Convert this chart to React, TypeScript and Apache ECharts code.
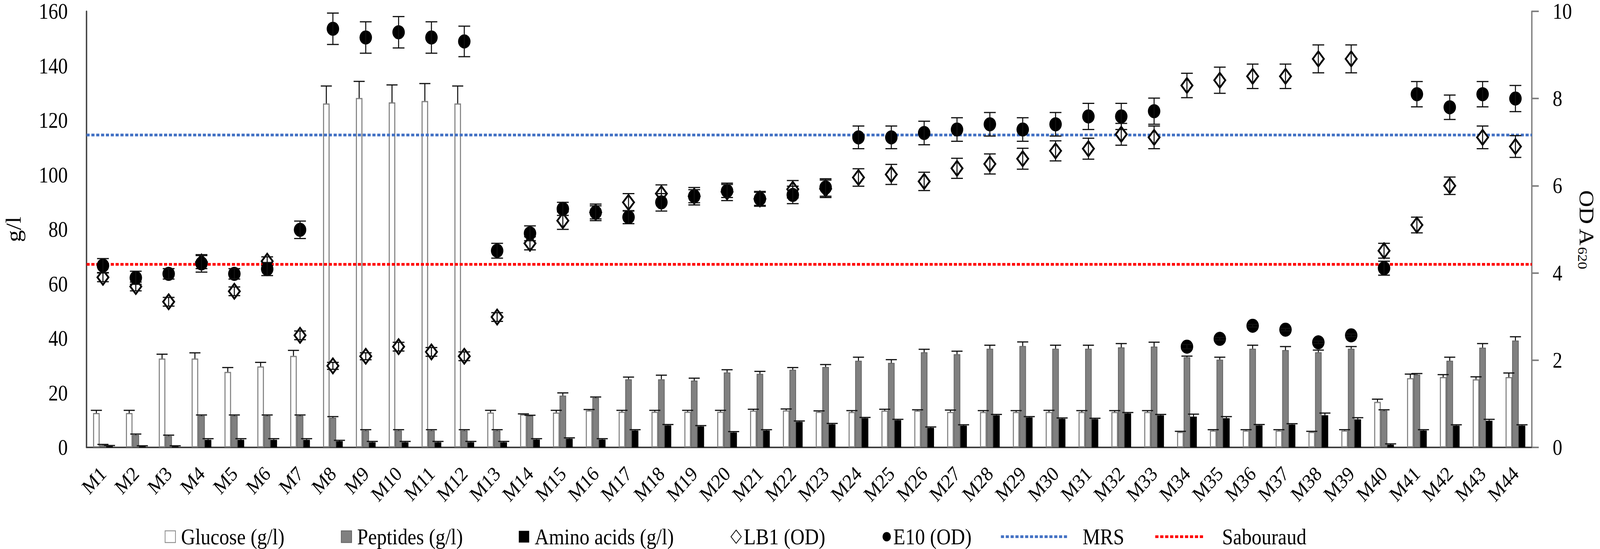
import React, { useEffect, useRef, useState } from "react";
import * as echarts from "echarts";

const categories = [
  "M1", "M2", "M3", "M4", "M5", "M6", "M7", "M8", "M9", "M10", "M11",
  "M12", "M13", "M14", "M15", "M16", "M17", "M18", "M19", "M20", "M21", "M22",
  "M23", "M24", "M25", "M26", "M27", "M28", "M29", "M30", "M31", "M32", "M33",
  "M34", "M35", "M36", "M37", "M38", "M39", "M40", "M41", "M42", "M43", "M44",
];

const glucose = [12.6, 12.6, 32.6, 32.6, 27.7, 29.7, 33.6, 126.2, 128.2, 126.6, 127.1, 126.2, 12.8, 12.1, 12.8, 13.6, 13.1, 13.1, 13.1, 13.1, 13.5, 13.6, 13.1, 13.0, 13.5, 13.5, 13.0, 13.0, 13.0, 13.0, 13.0, 13.0, 13.0, 5.7, 6.2, 6.2, 6.2, 5.7, 6.2, 16.7, 25.4, 25.8, 25.0, 25.8];
const glucoseErr = [1.0, 1.0, 1.6, 2.1, 1.6, 1.5, 2.0, 6.4, 6.1, 6.4, 6.4, 6.4, 0.8, 0.2, 0.8, 0.3, 0.5, 0.5, 0.5, 0.5, 0.5, 0.5, 0.3, 0.5, 0.5, 0.3, 0.7, 0.5, 0.5, 0.6, 0.5, 0.5, 0.5, 0.2, 0.3, 0.3, 0.3, 0.2, 0.3, 1.0, 1.5, 0.9, 0.9, 1.5];

const peptides = [0.8, 4.6, 4.2, 11.6, 11.6, 11.6, 11.6, 10.9, 6.2, 6.2, 6.2, 6.2, 6.2, 11.6, 19.0, 18.2, 25.0, 25.0, 24.5, 27.5, 27.0, 28.5, 29.5, 31.8, 31.0, 34.9, 34.2, 36.2, 37.2, 36.2, 36.2, 36.7, 37.0, 33.1, 32.2, 36.2, 35.7, 34.9, 36.2, 13.5, 26.7, 31.8, 36.6, 39.2];
const peptidesErr = [0.3, 0.3, 0.3, 0.3, 0.3, 0.3, 0.3, 0.4, 0.3, 0.3, 0.3, 0.3, 0.3, 0.2, 1.0, 0.3, 0.8, 1.5, 0.9, 1.0, 0.9, 0.8, 0.9, 1.3, 1.2, 1.1, 1.1, 1.3, 1.5, 1.3, 1.3, 1.4, 1.6, 0.4, 0.9, 1.3, 1.3, 0.8, 0.8, 0.3, 0.4, 1.3, 1.5, 1.4];

const aminoAcids = [0.5, 0.4, 0.4, 2.8, 2.8, 2.8, 2.8, 2.3, 1.9, 1.9, 1.9, 1.9, 1.9, 2.9, 3.2, 2.9, 6.2, 8.1, 7.7, 5.5, 6.2, 9.4, 8.5, 10.7, 10.0, 7.2, 8.0, 11.8, 11.0, 10.5, 10.4, 12.5, 11.8, 11.3, 10.7, 8.1, 8.4, 11.8, 10.3, 1.0, 6.2, 8.0, 9.8, 8.0];
const aminoAcidsErr = [0.2, 0.2, 0.2, 0.4, 0.4, 0.4, 0.4, 0.3, 0.3, 0.3, 0.3, 0.3, 0.3, 0.3, 0.3, 0.3, 0.3, 0.3, 0.3, 0.3, 0.3, 0.3, 0.3, 0.3, 0.3, 0.3, 0.3, 0.3, 0.3, 0.3, 0.3, 0.3, 0.3, 0.9, 0.6, 0.3, 0.3, 0.8, 0.6, 0.3, 0.3, 0.3, 0.5, 0.3];

const lb1 = [3.9, 3.69, 3.34, 4.25, 3.58, 4.27, 2.57, 1.87, 2.09, 2.31, 2.19, 2.09, 2.99, 4.68, 5.2, 5.39, 5.62, 5.82, 5.76, 5.86, 5.7, 5.92, 5.93, 6.19, 6.26, 6.1, 6.4, 6.5, 6.62, 6.8, 6.85, 7.18, 7.11, 8.3, 8.42, 8.51, 8.51, 8.91, 8.91, 4.51, 5.1, 6.0, 7.11, 6.9];
const lb1Err = [0.1, 0.1, 0.1, 0.15, 0.1, 0.1, 0.1, 0.08, 0.08, 0.1, 0.1, 0.1, 0.1, 0.15, 0.2, 0.15, 0.2, 0.2, 0.2, 0.2, 0.15, 0.2, 0.2, 0.2, 0.23, 0.21, 0.23, 0.23, 0.24, 0.23, 0.24, 0.25, 0.26, 0.28, 0.3, 0.28, 0.28, 0.32, 0.32, 0.17, 0.18, 0.2, 0.26, 0.25];

const e10 = [4.17, 3.89, 3.98, 4.22, 3.98, 4.09, 4.99, 9.6, 9.4, 9.52, 9.4, 9.31, 4.51, 4.91, 5.47, 5.39, 5.28, 5.62, 5.76, 5.88, 5.7, 5.79, 5.96, 7.11, 7.11, 7.21, 7.29, 7.41, 7.29, 7.41, 7.59, 7.59, 7.71, 2.31, 2.49, 2.79, 2.7, 2.41, 2.57, 4.11, 8.1, 7.8, 8.1, 8.0];
const e10Err = [0.16, 0.15, 0.12, 0.2, 0.12, 0.15, 0.2, 0.36, 0.36, 0.36, 0.36, 0.35, 0.17, 0.17, 0.15, 0.19, 0.15, 0.2, 0.15, 0.15, 0.17, 0.2, 0.2, 0.26, 0.26, 0.27, 0.27, 0.27, 0.27, 0.27, 0.3, 0.3, 0.3, 0.05, 0.03, 0.03, 0.03, 0.03, 0.03, 0.16, 0.29, 0.28, 0.29, 0.3];

const mrsLevel = 7.17;
const sabouraudLevel = 4.2;

const leftTicks = { min: 0, max: 160, interval: 20 };
const rightTicks = { min: 0, max: 10, interval: 2 };

const FONT = "'Liberation Serif', 'Times New Roman', serif";
const BAR_W = 19;
const BASE_W = 4623;
const BASE_H = 1405;

function dashPath(len: number, h: number, dash: number, gap: number) {
  let d = "path://";
  for (let x = 0; x < len; x += dash + gap) {
    const w = Math.min(dash, len - x);
    d += `M${x},0h${w}v${h}h${-w}z`;
  }
  return d;
}

function errorBars(values: number[], errs: number[], yAxisIndex: number, offset: number, both: boolean, capW: number, z: number) {
  return {
    type: "custom",
    yAxisIndex,
    z,
    silent: true,
    encode: { x: 0, y: 1 },
    data: values.map((v, k) => [k, v, errs[k]]),
    renderItem: (params: any, api: any) => {
      const i = api.value(0);
      const v = api.value(1);
      const e = api.value(2);
      if (!e) return null;
      const mid = api.coord([i, v]);
      const top = api.coord([i, v + e]);
      const bot = api.coord([i, both ? v - e : v]);
      const x = mid[0] + offset;
      const st = { stroke: "#111", lineWidth: 3 };
      const children: any[] = [
        { type: "line", shape: { x1: x, y1: top[1], x2: x, y2: bot[1] }, style: st },
        { type: "line", shape: { x1: x - capW / 2, y1: top[1], x2: x + capW / 2, y2: top[1] }, style: st },
      ];
      if (both) {
        children.push({ type: "line", shape: { x1: x - capW / 2, y1: bot[1], x2: x + capW / 2, y2: bot[1] }, style: st });
      }
      return { type: "group", children };
    },
  };
}

export default function App() {
  const ref = useRef<HTMLDivElement>(null);
  const [sx] = useState(() => Math.min(1, window.innerWidth / BASE_W));
  useEffect(() => {
    if (!ref.current) return;
    const chart = echarts.init(ref.current, null, { renderer: "svg" });
    const legendBase = {
      top: 1340,
      selectedMode: false,
      itemWidth: 30,
      itemHeight: 30,
      textStyle: { fontFamily: FONT, fontSize: 57, color: "#000", padding: [0, 0, 0, 11] },
    };
    const option: any = {
      animation: false,
      backgroundColor: "#fff",
      grid: { left: 242, right: 178, top: 29, bottom: 260, containLabel: false },
      legend: [
        { ...legendBase, left: 471, data: [{ name: "Glucose (g/l)", icon: "rect" }] },
        { ...legendBase, left: 980, data: [{ name: "Peptides (g/l)", icon: "rect" }] },
        { ...legendBase, left: 1494, data: [{ name: "Amino acids (g/l)", icon: "rect" }] },
        { ...legendBase, left: 2106, itemWidth: 30, itemHeight: 34, textStyle: { ...legendBase.textStyle, padding: [0, 0, 0, 2] }, data: ["LB1 (OD)"] },
        { ...legendBase, left: 2545, itemWidth: 24, itemHeight: 26, textStyle: { ...legendBase.textStyle, padding: [0, 0, 0, 2] }, data: ["E10 (OD)"] },
        {
          ...legendBase, left: 2887, itemWidth: 191, itemHeight: 7, symbolKeepAspect: false,
          textStyle: { ...legendBase.textStyle, padding: [0, 0, 0, 40] },
          data: [{ name: "MRS", icon: dashPath(191, 7, 9, 5), itemStyle: { color: "#4472C4" } }],
        },
        {
          ...legendBase, left: 3333, itemWidth: 138, itemHeight: 7, symbolKeepAspect: false,
          textStyle: { ...legendBase.textStyle, padding: [0, 0, 0, 50] },
          data: [{ name: "Sabouraud", icon: dashPath(138, 7, 9, 5), itemStyle: { color: "#FF0000" } }],
        },
      ],
      xAxis: {
        type: "category",
        data: categories,
        axisLine: { show: true, lineStyle: { color: "#404040", width: 4 } },
        axisTick: { show: false },
        axisLabel: { interval: 0, rotate: 45, margin: 58, fontFamily: FONT, fontSize: 53, color: "#000" },
        splitLine: { show: false },
      },
      yAxis: [
        {
          type: "value",
          ...leftTicks,
          position: "left",
          name: "g/l",
          nameLocation: "middle",
          nameRotate: 90,
          nameGap: 180,
          nameTextStyle: { fontFamily: FONT, fontSize: 62, color: "#000" },
          axisLine: { show: true, lineStyle: { color: "#404040", width: 4 } },
          axisTick: { show: false },
          axisLabel: { margin: 54, fontFamily: FONT, fontSize: 56, lineHeight: 42, color: "#000" },
          splitLine: { show: false },
        },
        {
          type: "value",
          ...rightTicks,
          position: "right",
          name: "{a|OD A}{b|620}",
          nameLocation: "middle",
          nameRotate: -90,
          nameGap: 120,
          nameTextStyle: {
            fontFamily: FONT,
            color: "#000",
            rich: {
              a: { fontFamily: FONT, fontSize: 60, color: "#000", verticalAlign: "bottom" },
              b: { fontFamily: FONT, fontSize: 38, color: "#000", verticalAlign: "bottom", padding: [0, 0, -2, 2] },
            },
          },
          axisLine: { show: true, lineStyle: { color: "#808080", width: 4 } },
          axisTick: { show: true, inside: false, length: 20, lineStyle: { color: "#808080", width: 4 } },
          axisLabel: { margin: 60, fontFamily: FONT, fontSize: 56, lineHeight: 42, color: "#000" },
          splitLine: { show: false },
        },
      ],
      series: [
        {
          name: "Glucose (g/l)",
          type: "bar",
          data: glucose,
          barWidth: BAR_W,
          barGap: "0%",
          yAxisIndex: 0,
          z: 2,
          itemStyle: { color: "#ffffff", borderColor: "#7f7f7f", borderWidth: 3 },
        },
        {
          name: "Peptides (g/l)",
          type: "bar",
          data: peptides,
          barWidth: BAR_W,
          barGap: "0%",
          yAxisIndex: 0,
          z: 2,
          itemStyle: { color: "#808080", borderColor: "#5f5f5f", borderWidth: 2 },
        },
        {
          name: "Amino acids (g/l)",
          type: "bar",
          data: aminoAcids,
          barWidth: BAR_W,
          barGap: "0%",
          yAxisIndex: 0,
          z: 2,
          itemStyle: { color: "#000000" },
        },
        errorBars(glucose, glucoseErr, 0, -BAR_W, false, 32, 3),
        errorBars(peptides, peptidesErr, 0, 0, false, 32, 3),
        errorBars(aminoAcids, aminoAcidsErr, 0, BAR_W, false, 32, 3),
        {
          name: "MRS",
          type: "line",
          yAxisIndex: 1,
          data: [],
          symbol: "none",
          itemStyle: { color: "#4472C4" },
          lineStyle: { color: "#4472C4", width: 7, type: [9, 5] },
          markLine: {
            silent: true,
            symbol: ["none", "none"],
            label: { show: false },
            lineStyle: { color: "#4472C4", width: 7, type: [9, 5] },
            data: [{ yAxis: mrsLevel }],
          },
          z: 4,
        },
        {
          name: "Sabouraud",
          type: "line",
          yAxisIndex: 1,
          data: [],
          symbol: "none",
          itemStyle: { color: "#FF0000" },
          lineStyle: { color: "#FF0000", width: 7, type: [9, 5] },
          markLine: {
            silent: true,
            symbol: ["none", "none"],
            label: { show: false },
            lineStyle: { color: "#FF0000", width: 7, type: [9, 5] },
            data: [{ yAxis: sabouraudLevel }],
          },
          z: 4,
        },
        {
          name: "LB1 (OD)",
          type: "scatter",
          yAxisIndex: 1,
          data: lb1,
          symbol: "diamond",
          symbolSize: [32, 38],
          itemStyle: { color: "#ffffff", borderColor: "#000000", borderWidth: 5, opacity: 1 },
          z: 5,
        },
        errorBars(lb1, lb1Err, 1, 0, true, 34, 6),
        {
          name: "E10 (OD)",
          type: "scatter",
          yAxisIndex: 1,
          data: e10,
          symbol: "circle",
          symbolSize: 36,
          itemStyle: { color: "#000000", opacity: 1 },
          z: 7,
        },
        errorBars(e10, e10Err, 1, 0, true, 34, 8),
      ],
    };
    chart.setOption(option);
    return () => chart.dispose();
  }, []);
  return (
    <div
      ref={ref}
      style={{
        position: "absolute",
        left: 0,
        top: 0,
        width: BASE_W,
        height: BASE_H,
        background: "#fff",
        transform: `scaleX(${sx})`,
        transformOrigin: "0 0",
      }}
    />
  );
}
